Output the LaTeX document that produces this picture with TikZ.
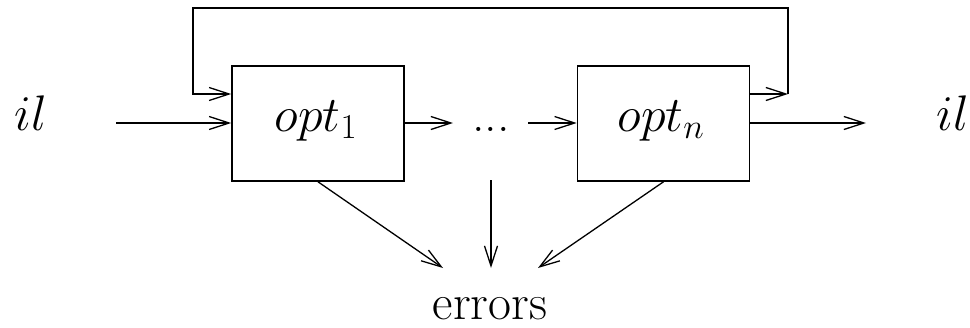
\documentclass[tikz,border=0pt]{standalone}
\usepackage{fix-cm}
\usetikzlibrary{arrows.meta}
\begin{document}
\begin{tikzpicture}[x=1pt,y=-1pt,
  every node/.style={font=\fontsize{50}{60}\selectfont},
  optbox/.style={draw,line width=1.6pt,minimum width=172pt,minimum height=115pt,inner sep=0pt},
  flow/.style={line width=1.3pt,-{Straight Barb[length=20pt,width=13pt,line width=1.3pt]}}]
\useasboundingbox (0,0) rectangle (970,327);
% optimisation passes
\node[optbox] (opt1) at (318,123.5) {};
\node[optbox] (optn) at (663.5,123.5) {};
\node[anchor=base] (t1) at (316,131) {$opt_1$};
\node[anchor=base] (tn) at (661,131) {$opt_n$};
\node[anchor=base] (dots) at (491,131) {...};
% input / output
\node[anchor=base] (inL) at (31,130) {$il$};
\node[anchor=base] (outR) at (953,130) {$il$};
\node[anchor=base,inner sep=0pt] (err) at (490,319) {errors};
% helper points
\coordinate (inS) at (116,123);
\coordinate (outE) at (866,123);
\coordinate (loopR) at (788,94);
\coordinate (loopL) at (193,94);
\coordinate (topY) at (0,8);
\coordinate (d1) at (453,123);
\coordinate (d2) at (528,123);
\coordinate (e1) at (443,268);
\coordinate (e2) at (491,268);
\coordinate (e3) at (538,268);
\coordinate (eS) at (491,180);
% main flow
\draw[flow] (inS) -- (inS -| opt1.west);
\draw[flow] (opt1.east |- d1) -- (d1);
\draw[flow] (d2) -- (d2 -| optn.west);
\draw[flow] (optn.east |- outE) -- (outE);
% feedback loop
\draw[flow] (loopR -| optn.east) -- (loopR);
\draw[flow] (loopR) -- (loopR |- topY) -- (loopL |- topY) -- (loopL) -- (loopL -| opt1.west);
% error reports
\draw[flow] (opt1.south) -- (e1);
\draw[flow] (eS) -- (e2);
\draw[flow] (optn.south) -- (e3);
\end{tikzpicture}
\end{document}
